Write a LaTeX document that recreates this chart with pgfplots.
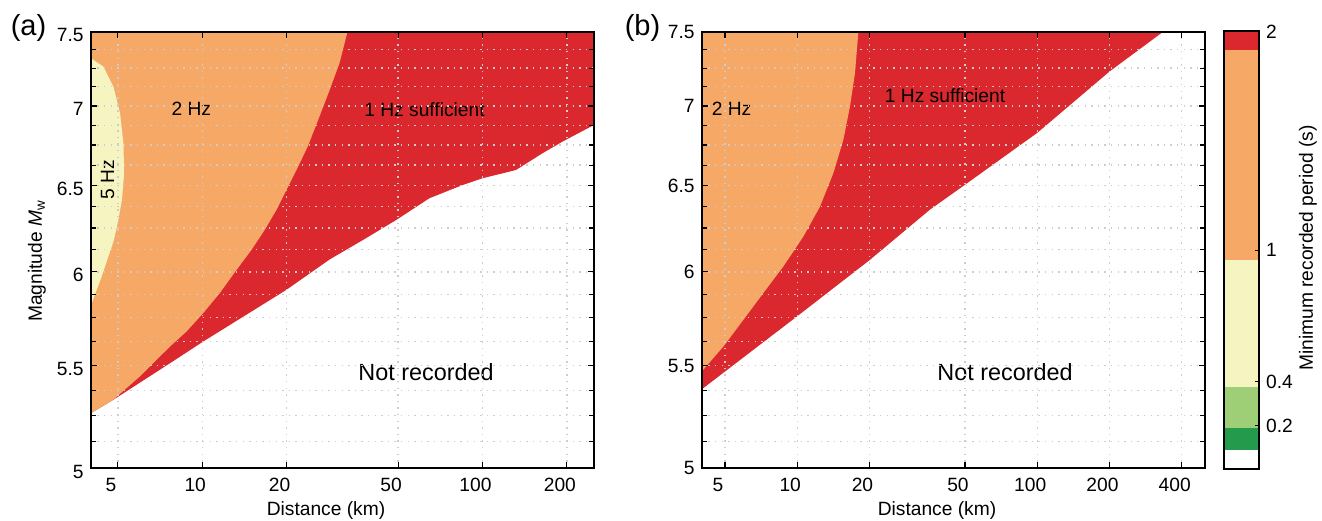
\documentclass[border=0pt]{standalone}
\usepackage{fontspec}
\setmainfont{Liberation Sans}
\usepackage{pgfplots}
\pgfplotsset{compat=1.18}

\definecolor{cRed}{RGB}{219,40,46}
\definecolor{cOrange}{RGB}{246,168,102}
\definecolor{cYellow}{RGB}{246,244,192}
\definecolor{cLGreen}{RGB}{158,206,118}
\definecolor{cDGreen}{RGB}{36,155,76}
\definecolor{cGrid}{RGB}{205,205,205}
\newcommand\fsz{\fontsize{9.6}{11.5}\selectfont}

\begin{document}
\begin{tikzpicture}
\path[use as bounding box] (0pt,0pt) rectangle (661pt,260pt);

% ---------------- panel (a)
\begin{axis}[
  scale only axis, width=251.65pt, height=218.3pt,
  at={(45.35pt,25.85pt)}, anchor=south west,
  xmode=log, ymode=log, ymin=5, ymax=7.5,
  xmin=4, xmax=250,
  xtick={5,10,20,50,100,200}, xticklabels={5,10,20,50,100,200},
  ytick={5,5.5,6,6.5,7,7.5}, yticklabels={5,5.5,6,6.5,7,7.5},
  minor ytick={5.125,5.25,5.375,5.625,5.75,5.875,6.125,6.25,6.375,6.625,6.75,6.875,7.125,7.25,7.375},
  tick align=inside,
  axis on top,
  xmajorgrids, ymajorgrids, yminorgrids,
  grid style={draw=cGrid, line width=0.7pt, dash pattern=on 0.7pt off 2.6pt},
  major tick length=3pt, minor tick length=2.5pt,
  tick style={black, line width=0.6pt},
  axis line style={line width=0.9pt},
  tick label style={font=\fsz},
  label style={font=\fsz},
  xticklabel style={anchor=north, yshift=-1.5pt, xshift=-3.5pt},
  yticklabel style={yshift=-1.7pt},
  xlabel={Distance (km)},
  xlabel style={at={(axis description cs:0.4675,0)}, anchor=center, yshift=-20.9pt},
  ylabel={Magnitude \textit{M}\textsubscript{w}},
  ylabel style={at={(axis description cs:-0.1067,0.475)}, anchor=center},
]
% recorded with 1 Hz (red): above the lower limit
\addplot[fill=cRed, draw=none] coordinates {
 (4,5.262) (4.8,5.327) (7.67,5.512) (10.07,5.624) (19.97,5.901)
 (28.5,6.07) (37.4,6.180) (49.2,6.296) (64.7,6.425) (85.0,6.504) (100,6.545)
 (131.7,6.596) (163.9,6.699) (193.1,6.772) (250,6.877) (250,7.5) (4,7.5)} -- cycle;
% 2 Hz needed (orange)
\addplot[fill=cOrange, draw=none] coordinates {
 (4,5.262) (4.8,5.327) (5.98,5.444) (7.67,5.598) (8.79,5.677) (10.07,5.774)
 (11.55,5.883) (13.25,6.011) (14.99,6.124) (16.7,6.238) (18.4,6.355)
 (19.97,6.474) (21.7,6.596) (23.8,6.741) (26.2,6.931) (28.5,7.105)
 (30.9,7.284) (33,7.5) (4,7.5)} -- cycle;
% 5 Hz needed (pale yellow)
\addplot[fill=cYellow, draw=none] coordinates {
 (4,7.318) (4.44,7.26) (4.82,7.127) (5.09,6.954) (5.24,6.751) (5.26,6.565)
 (5.17,6.415) (5.02,6.296) (4.84,6.180) (4.61,6.079) (4.38,5.975) (4.14,5.874)
 (4,5.81)} -- cycle;
\node[font=\fsz] at (axis cs:9.14,6.979) {2 Hz};
\node[font=\fsz, rotate=90] at (axis cs:4.6,6.534) {5 Hz};
\node[font=\fsz] at (axis cs:62.1,6.979) {1 Hz sufficient};
\node[font=\fontsize{11.7}{14}\selectfont] at (axis cs:62.9,5.469) {Not recorded};
\end{axis}

% ---------------- panel (b)
\begin{axis}[
  scale only axis, width=251.65pt, height=218.3pt,
  at={(350.85pt,25.85pt)}, anchor=south west,
  xmode=log, ymode=log, ymin=5, ymax=7.5,
  xmin=4, xmax=500,
  xtick={5,10,20,50,100,200,400}, xticklabels={5,10,20,50,100,200,400},
  ytick={5,5.5,6,6.5,7,7.5}, yticklabels={5,5.5,6,6.5,7,7.5},
  minor ytick={5.125,5.25,5.375,5.625,5.75,5.875,6.125,6.25,6.375,6.625,6.75,6.875,7.125,7.25,7.375},
  tick align=inside,
  axis on top,
  xmajorgrids, ymajorgrids, yminorgrids,
  grid style={draw=cGrid, line width=0.7pt, dash pattern=on 0.7pt off 2.6pt},
  major tick length=3pt, minor tick length=2.5pt,
  tick style={black, line width=0.6pt},
  axis line style={line width=0.9pt},
  tick label style={font=\fsz},
  label style={font=\fsz},
  xticklabel style={anchor=north, yshift=-1.5pt, xshift=-3.5pt},
  xlabel={Distance (km)},
  xlabel style={at={(axis description cs:0.4675,0)}, anchor=center, yshift=-20.9pt},
]
\addplot[fill=cRed, draw=none] coordinates {
 (4,5.38) (9.95,5.756) (20.1,6.068) (35.7,6.357) (50,6.506) (100,6.827)
 (200,7.227) (335,7.5) (4,7.5)} -- cycle;
\addplot[fill=cOrange, draw=none] coordinates {
 (4,5.47) (4.92,5.598) (5.96,5.738) (7.22,5.883) (8.75,6.030) (10.6,6.200)
 (12.44,6.375) (14.14,6.576) (15.56,6.782) (16.59,6.996) (17.41,7.217)
 (17.98,7.5) (4,7.5)} -- cycle;
\node[font=\fsz] at (axis cs:5.33,6.979) {2 Hz};
\node[font=\fsz] at (axis cs:41.3,7.07) {1 Hz sufficient};
\node[font=\fontsize{11.7}{14}\selectfont] at (axis cs:73.4,5.469) {Not recorded};
\end{axis}

% ---------------- colour bar
\begin{axis}[scale only axis, width=17.5pt, height=219pt,
  at={(612pt,25.35pt)}, anchor=south west,
  xmin=0, xmax=1, ymin=0, ymax=2,
  xtick=\empty,
  ytick={0.2,0.4,1,2}, yticklabels={0.2,0.4,1,2},
  ytick pos=right, yticklabel pos=right,
  tick align=inside, major tick length=2pt,
  tick style={black, line width=0.6pt},
  axis line style={line width=0.9pt},
  axis on top,
  tick label style={font=\fsz},
  ylabel={Minimum recorded period (s)},
  ylabel style={font=\fsz, at={(axis description cs:2.4,0.505)}, anchor=center},
]
\addplot[fill=white, draw=none] coordinates {(0,0) (1,0) (1,0.088) (0,0.088)} -- cycle;
\addplot[fill=cDGreen, draw=none] coordinates {(0,0.088) (1,0.088) (1,0.187) (0,0.187)} -- cycle;
\addplot[fill=cLGreen, draw=none] coordinates {(0,0.187) (1,0.187) (1,0.377) (0,0.377)} -- cycle;
\addplot[fill=cYellow, draw=none] coordinates {(0,0.377) (1,0.377) (1,0.956) (0,0.956)} -- cycle;
\addplot[fill=cOrange, draw=none] coordinates {(0,0.956) (1,0.956) (1,1.915) (0,1.915)} -- cycle;
\addplot[fill=cRed, draw=none] coordinates {(0,1.915) (1,1.915) (1,2) (0,2)} -- cycle;
\end{axis}

\node[font=\fontsize{14.5}{17}\selectfont] at (14.25pt,246pt) {(a)};
\node[font=\fontsize{14.5}{17}\selectfont] at (321.25pt,246pt) {(b)};
\end{tikzpicture}
\end{document}
